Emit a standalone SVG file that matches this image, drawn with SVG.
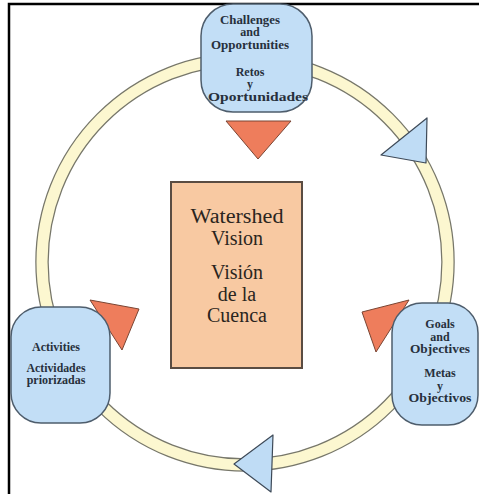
<svg xmlns="http://www.w3.org/2000/svg" width="479" height="494" viewBox="0 0 479 494">
<style>
.node{fill:#C2DEF6;stroke:#4E5D6C;stroke-width:1.5}
.nt{font-family:"Liberation Serif",serif;font-weight:bold;font-size:12px;fill:#27303C;text-anchor:middle}
.ct{font-family:"Liberation Serif",serif;font-size:20px;fill:#2A2520;text-anchor:middle}
.tri-o{fill:#EE7D5C;stroke:#7A4533;stroke-width:1;stroke-linejoin:round}
.tri-b{fill:#BFDCF5;stroke:#3E4A58;stroke-width:1.2;stroke-linejoin:round}
</style>
<rect width="479" height="494" fill="#FFFFFF"/>
<path d="M9 494 V4 H479" fill="none" stroke="#000" stroke-width="2.5"/>
<g id="connectors">
<circle cx="245" cy="262" r="203" fill="none" stroke="#77776A" stroke-width="13.5"/>
<circle cx="245" cy="262" r="203" fill="none" stroke="#FCF7D0" stroke-width="11"/>
<polygon class="tri-o" points="226,121 291,121 258,159"/>
<polygon class="tri-o" points="90,300 139,309 122,350"/>
<polygon class="tri-o" points="362,312 409,300 376,352"/>
<polygon class="tri-b" points="381,155 427,118 426,163"/>
<polygon class="tri-b" points="234,464 273,435 271,492"/>
</g>
<g id="challenges">
<rect class="node" x="201" y="4" width="111" height="108" rx="32"/>
<text class="nt" x="250" y="23.5" textLength="60" lengthAdjust="spacingAndGlyphs">Challenges</text>
<text class="nt" x="250" y="36">and</text>
<text class="nt" x="250" y="48.5" textLength="78" lengthAdjust="spacingAndGlyphs">Opportunities</text>
<text class="nt" x="250" y="75.5">Retos</text>
<text class="nt" x="250" y="88">y</text>
<text class="nt" x="258" y="100.5" textLength="100" lengthAdjust="spacingAndGlyphs">Oportunidades</text>
</g>
<g id="activities">
<rect class="node" x="11" y="307" width="99" height="116" rx="30"/>
<text class="nt" x="56" y="351">Activities</text>
<text class="nt" x="56" y="371.5" textLength="59" lengthAdjust="spacingAndGlyphs">Actividades</text>
<text class="nt" x="56" y="384">priorizadas</text>
</g>
<g id="goals">
<rect class="node" x="392" y="303" width="86" height="122" rx="30"/>
<text class="nt" x="440" y="328">Goals</text>
<text class="nt" x="440" y="340.5">and</text>
<text class="nt" x="440" y="353" textLength="60" lengthAdjust="spacingAndGlyphs">Objectives</text>
<text class="nt" x="440" y="377">Metas</text>
<text class="nt" x="440" y="389.5">y</text>
<text class="nt" x="440" y="402" textLength="63" lengthAdjust="spacingAndGlyphs">Objectivos</text>
</g>
<g id="vision">
<rect x="171" y="182" width="131" height="186" fill="#F8C9A2" stroke="#5A4C42" stroke-width="2"/>
<text class="ct" x="237" y="223" textLength="93" lengthAdjust="spacingAndGlyphs">Watershed</text>
<text class="ct" x="237" y="245">Vision</text>
<text class="ct" x="237" y="279">Visión</text>
<text class="ct" x="237" y="300.5">de la</text>
<text class="ct" x="237" y="322">Cuenca</text>
</g>
</svg>
